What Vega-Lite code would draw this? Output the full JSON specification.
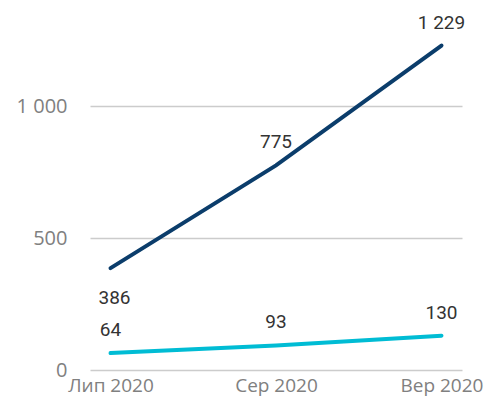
{
  "$schema": "https://vega.github.io/schema/vega-lite/v6.json",
  "width": 372,
  "height": 330,
  "autosize": "none",
  "padding": {"left": 90, "top": 40, "right": 27, "bottom": 34},
  "config": {
    "view": {"stroke": null},
    "locale": {"number": {"decimal": ",", "thousands": " ", "grouping": [3], "currency": ["", ""]}}
  },
  "data": {
    "values": [
      {"month": "Лип 2020", "series": "A", "value": 386},
      {"month": "Сер 2020", "series": "A", "value": 775},
      {"month": "Вер 2020", "series": "A", "value": 1229},
      {"month": "Лип 2020", "series": "B", "value": 64},
      {"month": "Сер 2020", "series": "B", "value": 93},
      {"month": "Вер 2020", "series": "B", "value": 130}
    ]
  },
  "encoding": {
    "x": {
      "field": "month", "type": "ordinal", "sort": null,
      "scale": {"type": "point", "padding": 0.124},
      "axis": {"title": null, "labelAngle": 0, "domain": false, "ticks": false, "labelPadding": 6,
               "labelFont": "Open Sans", "labelFontSize": 19, "labelColor": "#808080"}
    },
    "y": {
      "field": "value", "type": "quantitative",
      "scale": {"domain": [0, 1250], "nice": false},
      "axis": {"title": null, "values": [0, 500, 1000], "format": ",d", "domain": false, "ticks": false,
               "labelPadding": 23, "labelFont": "Open Sans", "labelFontSize": 20, "labelColor": "#808080",
               "gridColor": "#cccccc", "gridWidth": 1.5}
    }
  },
  "layer": [
    {
      "mark": {"type": "line", "strokeWidth": 4, "strokeCap": "round"},
      "encoding": {
        "color": {"field": "series", "type": "nominal", "legend": null,
                  "scale": {"domain": ["A", "B"], "range": ["#0b3d6b", "#00bcd4"]}}
      }
    },
    {
      "transform": [{"filter": "!(datum.series === 'A' && datum.month === 'Лип 2020')"}],
      "mark": {"type": "text", "dy": -23, "font": "Roboto", "fontSize": 19, "color": "#333333"},
      "encoding": {"text": {"field": "value", "type": "quantitative", "format": ",d"}}
    },
    {
      "transform": [{"filter": "datum.series === 'A' && datum.month === 'Лип 2020'"}],
      "mark": {"type": "text", "dy": 30, "dx": 4, "font": "Roboto", "fontSize": 19, "color": "#333333"},
      "encoding": {"text": {"field": "value", "type": "quantitative", "format": ",d"}}
    }
  ]
}
